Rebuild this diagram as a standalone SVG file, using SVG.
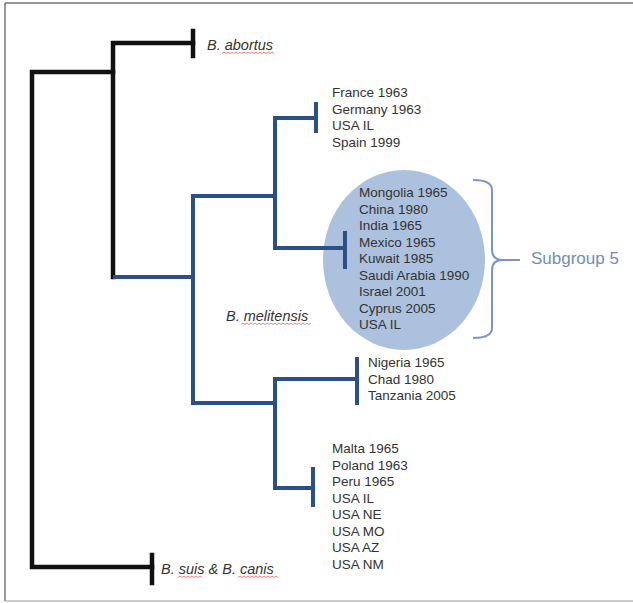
<svg xmlns="http://www.w3.org/2000/svg" width="633" height="603" viewBox="0 0 633 603">
<style>
.blk{fill:none;stroke:#111;stroke-width:4.5;stroke-linecap:square;stroke-linejoin:miter}
.blu{fill:none;stroke:#2b5088;stroke-width:4;stroke-linecap:square;stroke-linejoin:miter}
.lst{font-family:"Liberation Sans",Arial,sans-serif;font-size:13.5px;fill:#333}
.sp{font-family:"Liberation Sans",Arial,sans-serif;font-size:14.5px;font-style:italic;fill:#333}
.sq{fill:none;stroke:#e05050;stroke-width:0.9;opacity:0.8}
</style>
<rect width="633" height="603" fill="#fff"/>
<g id="frame" fill="none">
<line x1="5" y1="3" x2="633" y2="3" stroke="#333" stroke-width="1.2"/>
<line x1="5" y1="3" x2="5" y2="601" stroke="#555" stroke-width="1.2"/>
<line x1="5" y1="601" x2="633" y2="601" stroke="#999" stroke-width="1.2"/>
</g>
<g id="subgroup5-ellipse">
<ellipse cx="404" cy="260" rx="81" ry="90" fill="#abc1de"/>
</g>
<g id="connectors">
<path class="blk" d="M113,72 H32 V567 H152"/>
<path class="blk" d="M193,43 H113 V277"/>
<line class="blk" x1="193" y1="31" x2="193" y2="56" stroke-linecap="butt"/>
<line class="blk" x1="152" y1="555" x2="152" y2="583" stroke-linecap="butt"/>
<path class="blu" d="M115,277 H193 V196 H275 V118 H316"/>
<path class="blu" d="M275,196 V248 H345"/>
<path class="blu" d="M193,277 V403 H275 V379 H357"/>
<path class="blu" d="M275,403 V488 H313"/>
<line class="blu" x1="316" y1="104" x2="316" y2="131" stroke-linecap="butt"/>
<line class="blu" x1="345" y1="233" x2="345" y2="267" stroke-linecap="butt"/>
<line class="blu" x1="357" y1="359" x2="357" y2="403" stroke-linecap="butt"/>
<line class="blu" x1="313" y1="469" x2="313" y2="505" stroke-linecap="butt"/>
</g>
<g id="b-abortus">
<text class="sp" x="207" y="50">B. abortus</text>
<path class="sq" d="M222,53.5 l2,-1.5 l2,1.5 l2,-1.5 l2,1.5 l2,-1.5 l2,1.5 l2,-1.5 l2,1.5 l2,-1.5 l2,1.5 l2,-1.5 l2,1.5 l2,-1.5 l2,1.5 l2,-1.5 l2,1.5 l2,-1.5 l2,1.5 l2,-1.5 l2,1.5 l2,-1.5 l2,1.5 l2,-1.5 l2,1.5 l2,-1.5 l2,1.5"/>
</g>
<g id="b-melitensis">
<text class="sp" x="226" y="321">B. melitensis</text>
<path class="sq" d="M241,324.5 l2,-1.5 l2,1.5 l2,-1.5 l2,1.5 l2,-1.5 l2,1.5 l2,-1.5 l2,1.5 l2,-1.5 l2,1.5 l2,-1.5 l2,1.5 l2,-1.5 l2,1.5 l2,-1.5 l2,1.5 l2,-1.5 l2,1.5 l2,-1.5 l2,1.5 l2,-1.5 l2,1.5 l2,-1.5 l2,1.5 l2,-1.5 l2,1.5 l2,-1.5 l2,1.5 l2,-1.5 l2,1.5 l2,-1.5 l2,1.5 l2,-1.5 l2,1.5 l2,-1.5"/>
</g>
<g id="b-suis-canis">
<text class="sp" x="161" y="574">B. suis &amp; B. canis</text>
<path class="sq" d="M178,577.5 l2,-1.5 l2,1.5 l2,-1.5 l2,1.5 l2,-1.5 l2,1.5 l2,-1.5 l2,1.5 l2,-1.5 l2,1.5 l2,-1.5 l2,1.5"/>
<path class="sq" d="M238,577.5 l2,-1.5 l2,1.5 l2,-1.5 l2,1.5 l2,-1.5 l2,1.5 l2,-1.5 l2,1.5 l2,-1.5 l2,1.5 l2,-1.5 l2,1.5 l2,-1.5 l2,1.5 l2,-1.5 l2,1.5 l2,-1.5 l2,1.5 l2,-1.5 l2,1.5"/>
</g>
<g id="group-france">
<text class="lst" x="332" y="97">France 1963</text>
<text class="lst" x="332" y="113.5">Germany 1963</text>
<text class="lst" x="332" y="130">USA IL</text>
<text class="lst" x="332" y="146.5">Spain 1999</text>
</g>
<g id="subgroup5-list">
<text class="lst" x="359" y="197">Mongolia  1965</text>
<text class="lst" x="359" y="213.5">China 1980</text>
<text class="lst" x="359" y="230">India 1965</text>
<text class="lst" x="359" y="246.5">Mexico 1965</text>
<text class="lst" x="359" y="263">Kuwait 1985</text>
<text class="lst" x="359" y="279.5">Saudi Arabia 1990</text>
<text class="lst" x="359" y="296">Israel 2001</text>
<text class="lst" x="359" y="312.5">Cyprus 2005</text>
<text class="lst" x="359" y="329">USA IL</text>
</g>
<g id="subgroup5-label">
<path d="M473,180 Q492,180 492,190 V250 Q492,260 503,260 H520 M503,260 Q492,260 492,270 V328 Q492,338 473,338" fill="none" stroke="#7896c6" stroke-width="2"/>
<text x="531" y="264" font-family="'Liberation Sans',Arial,sans-serif" font-size="17" fill="#6f8dc1">Subgroup 5</text>
</g>
<g id="group-nigeria">
<text class="lst" x="368" y="367">Nigeria 1965</text>
<text class="lst" x="368" y="383.5">Chad 1980</text>
<text class="lst" x="368" y="400">Tanzania 2005</text>
</g>
<g id="group-malta">
<text class="lst" x="332" y="453">Malta 1965</text>
<text class="lst" x="332" y="469.5">Poland 1963</text>
<text class="lst" x="332" y="486">Peru 1965</text>
<text class="lst" x="332" y="502.5">USA IL</text>
<text class="lst" x="332" y="519">USA NE</text>
<text class="lst" x="332" y="535.5">USA MO</text>
<text class="lst" x="332" y="552">USA AZ</text>
<text class="lst" x="332" y="568.5">USA NM</text>
</g>
</svg>
